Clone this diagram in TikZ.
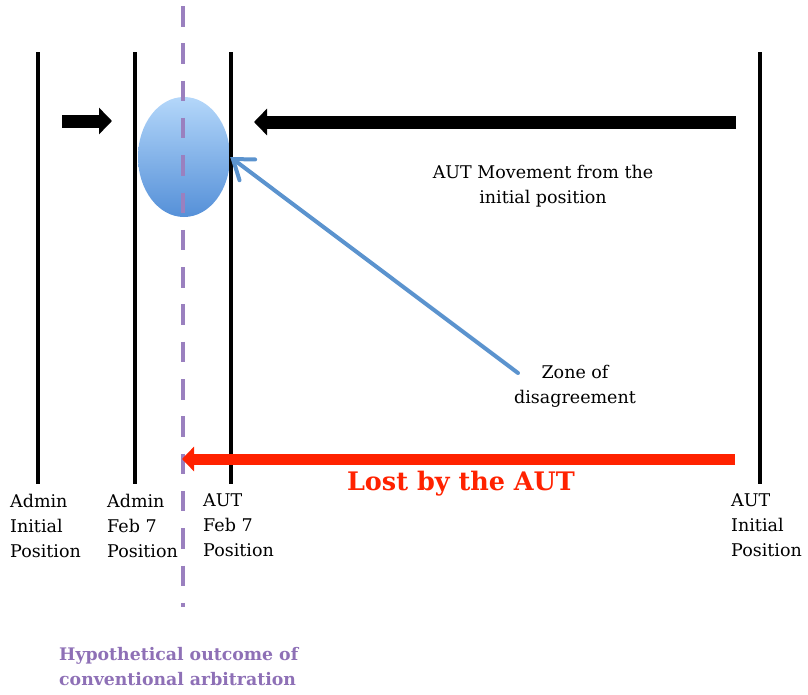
\documentclass[tikz,border=0pt]{standalone}
\usepackage{fontspec}
\setmainfont{DejaVu Serif}
\usetikzlibrary{arrows.meta,shapes.geometric}

\definecolor{arbpurple}{HTML}{9A80BF}
\definecolor{arbtext}{HTML}{8E70B6}
\definecolor{lostred}{HTML}{FF2200}
\definecolor{zoneblue}{HTML}{5B93CE}
\definecolor{zonetop}{HTML}{B4D7FA}
\definecolor{zonebot}{HTML}{5590D8}

\tikzset{
  posline/.style={line width=4pt, black},
  poslabel/.style={anchor=north west, inner sep=0pt, align=left,
    font=\fontsize{17.5}{25}\selectfont},
  blockarrow/.style={line width=13pt, -{Triangle[length=13pt,width=26pt]}},
  lostarrow/.style={line width=11pt, lostred, -{Triangle[length=12pt,width=24pt]}},
  pointer/.style={line width=4pt, zoneblue, line cap=round,
    -{Straight Barb[length=18pt,width=26pt,line cap=round]}},
  plain/.style={inner sep=0pt, align=center, font=\fontsize{17.5}{25}\selectfont}
}

\begin{document}
\begin{tikzpicture}[x=1pt,y=-1pt]
\useasboundingbox (0,0) rectangle (808,694);

% zone of disagreement
\node[ellipse, minimum width=92pt, minimum height=120pt, inner sep=0pt,
  top color=zonetop, bottom color=zonebot] (zone) at (184,157) {};

% positions
\draw[posline] (38,52) -- (38,484);
\draw[posline] (135,52) -- (135,484);
\draw[posline] (231,52) -- (231,484);
\draw[posline] (760,52) -- (760,484);

\node[poslabel] (admini) at (10,494) {Admin\\Initial\\Position};
\node[poslabel] (adminfeb) at (107,494) {Admin\\Feb 7\\Position};
\node[poslabel] (autfeb) at (203,494) {AUT\\Feb 7\\Position};
\node[poslabel] (autini) at (731,494) {AUT\\Initial\\Position};

% arbitration line
\draw[arbpurple, line width=4.5pt, dash pattern=on 20.5pt off 16.8pt] (183,6) -- (183,607);

\coordinate (admstart) at (62,121);
\coordinate (admend) at (112,121);
\coordinate (autstart) at (736,122);
\coordinate (autend) at (254,122);
\coordinate (loststart) at (735,459);
\coordinate (lostend) at (182,459);
\coordinate (zonetail) at (518,373);

\draw[blockarrow] (admstart) -- (admend);
\draw[blockarrow] (autstart) -- (autend);
\draw[lostarrow] (loststart) -- (lostend);
\draw[pointer] (zonetail) -- (zone.east);

\node[plain] (move) at (543,186) {AUT Movement from the\\initial position};
\node[plain] (zonelbl) at (575,386) {Zone of\\disagreement};
\node[inner sep=0pt, text=lostred, font=\fontsize{25.5}{30}\selectfont\bfseries] (lost) at (461,484) {Lost by the AUT};
\node[inner sep=0pt, anchor=north west, align=left, text=arbtext,
  font=\fontsize{17.3}{25}\selectfont\bfseries] (arb) at (59,647) {Hypothetical outcome of\\conventional arbitration};
\end{tikzpicture}
\end{document}
